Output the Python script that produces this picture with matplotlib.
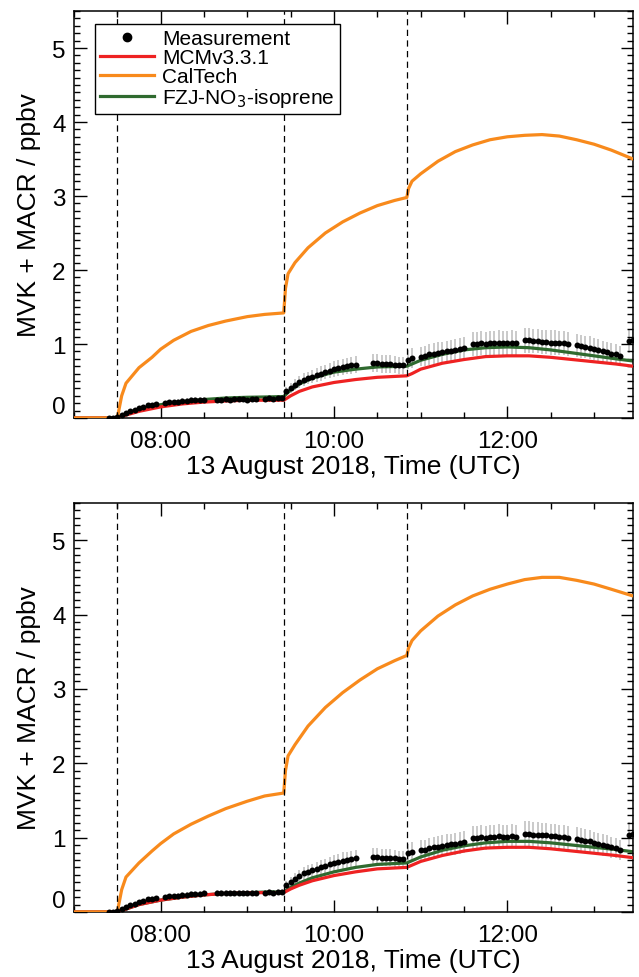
import numpy as np
import matplotlib
matplotlib.use("Agg")
import matplotlib.pyplot as plt
from matplotlib.lines import Line2D
from matplotlib.ticker import MultipleLocator, FuncFormatter

plt.rcParams['font.family'] = ['Liberation Sans', 'DejaVu Sans']

# isoprene injections (hours UTC)
inject_times = [7.50, 9.42, 10.84]

# model output, hours UTC
model_t = [7.0, 7.5, 7.6, 7.75, 8.0, 8.25, 8.5, 8.75, 9.0, 9.25, 9.42, 9.5, 9.6, 9.75,
           10.0, 10.25, 10.5, 10.84, 10.9, 11.0, 11.25, 11.5, 11.75, 12.0, 12.25, 12.5,
           12.75, 13.0, 13.25, 13.45]
mcm_top = [0, 0, 0.04, 0.09, 0.15, 0.19, 0.215, 0.23, 0.24, 0.24, 0.24, 0.30, 0.36, 0.42,
           0.48, 0.52, 0.55, 0.57, 0.60, 0.66, 0.74, 0.79, 0.83, 0.84, 0.84, 0.82,
           0.79, 0.76, 0.73, 0.70]
fzj_top = [0, 0, 0.06, 0.12, 0.18, 0.22, 0.25, 0.27, 0.28, 0.285, 0.29, 0.38, 0.46, 0.54,
           0.62, 0.66, 0.69, 0.70, 0.73, 0.78, 0.86, 0.92, 0.95, 0.96, 0.95, 0.92,
           0.88, 0.84, 0.80, 0.77]
mcm_bot = [0, 0, 0.04, 0.10, 0.16, 0.20, 0.23, 0.25, 0.26, 0.26, 0.26, 0.31, 0.36, 0.42,
           0.49, 0.54, 0.58, 0.60, 0.63, 0.68, 0.76, 0.82, 0.86, 0.87, 0.87, 0.85,
           0.82, 0.79, 0.76, 0.73]
fzj_bot = [0, 0, 0.04, 0.10, 0.16, 0.20, 0.23, 0.25, 0.26, 0.27, 0.27, 0.33, 0.39, 0.46,
           0.54, 0.60, 0.64, 0.66, 0.69, 0.74, 0.83, 0.89, 0.93, 0.95, 0.95, 0.93,
           0.90, 0.87, 0.84, 0.81]

caltech_t = [7.0, 7.5, 7.55, 7.6, 7.75, 7.9, 8.0, 8.15, 8.35, 8.55, 8.75, 9.0, 9.2, 9.42,
             9.44, 9.47, 9.55, 9.7, 9.9, 10.1, 10.3, 10.5, 10.7, 10.84, 10.86, 10.9, 11.0,
             11.2, 11.4, 11.6, 11.8, 12.0, 12.2, 12.4, 12.6, 12.8, 13.0, 13.2, 13.45]
caltech_top = [0, 0, 0.30, 0.47, 0.68, 0.82, 0.93, 1.05, 1.17, 1.25, 1.31, 1.37, 1.40, 1.42,
               1.75, 1.95, 2.1, 2.3, 2.5, 2.65, 2.77, 2.87, 2.94, 2.98, 3.1, 3.2, 3.3,
               3.47, 3.6, 3.69, 3.76, 3.8, 3.82, 3.83, 3.81, 3.76, 3.7, 3.62, 3.5]
caltech_bot = [0, 0, 0.30, 0.47, 0.66, 0.82, 0.92, 1.05, 1.18, 1.29, 1.39, 1.49, 1.56, 1.60,
               1.90, 2.10, 2.25, 2.5, 2.75, 2.95, 3.12, 3.27, 3.38, 3.45, 3.55, 3.65, 3.78,
               3.98, 4.13, 4.25, 4.34, 4.41, 4.47, 4.5, 4.5, 4.46, 4.41, 4.34, 4.25]

# measurement, 3 min data, segments separated by zero/calibration gaps
meas_step = 0.05
meas_starts = [7.40, 7.55, 8.05, 8.65, 9.20, 9.45, 9.80, 10.45, 10.85, 11.00, 11.60, 12.20,
               12.80, 13.40]
meas_values = [
    [0.00, 0.00, 0.01],
    [0.04, 0.07, 0.09, 0.11, 0.13, 0.15, 0.17, 0.18, 0.19],
    [0.20, 0.21, 0.21, 0.22, 0.23, 0.23, 0.24, 0.24, 0.24, 0.25],
    [0.25, 0.25, 0.26, 0.25, 0.26, 0.26, 0.26, 0.25, 0.26, 0.26],
    [0.26, 0.27, 0.26, 0.27, 0.27],
    [0.36, 0.41, 0.45, 0.49, 0.52, 0.54, 0.56],
    [0.58, 0.60, 0.62, 0.64, 0.66, 0.67, 0.69, 0.70, 0.71, 0.72],
    [0.74, 0.74, 0.73, 0.73, 0.73, 0.72, 0.71, 0.71],
    [0.79, 0.81],
    [0.83, 0.84, 0.86, 0.87, 0.88, 0.89, 0.90, 0.91, 0.92, 0.93, 0.94],
    [1.00, 1.00, 1.01, 1.00, 1.01, 1.01, 1.02, 1.01, 1.01, 1.02, 1.01],
    [1.05, 1.05, 1.04, 1.04, 1.03, 1.03, 1.02, 1.02, 1.01, 1.01, 1.00],
    [0.98, 0.97, 0.96, 0.95, 0.93, 0.92, 0.90, 0.89, 0.87, 0.86, 0.84],
    [1.04, 1.05],
]
meas_err_frac = 0.16

c_mcm = '#ee2222'
c_cal = '#f88a1c'
c_fzj = '#2f6a2f'

meas_t = np.concatenate([s + meas_step * np.arange(len(v)) for s, v in zip(meas_starts, meas_values)])
meas_v = np.concatenate([np.array(v) for v in meas_values])
meas_e = meas_err_frac * meas_v


def hhmm(h, pos):
    return "%02d:%02d" % (int(h), int(round((h % 1) * 60)))


def panel(ax, mcm, cal, fzj):
    ax.vlines(meas_t, meas_v - meas_e, meas_v + meas_e, color='#c6c6c6', lw=1.3, zorder=1)
    ax.plot(model_t, fzj, color=c_fzj, lw=2.3, zorder=2)
    ax.plot(model_t, mcm, color=c_mcm, lw=2.3, zorder=3)
    ax.plot(caltech_t, cal, color=c_cal, lw=2.3, zorder=3)
    ax.plot(meas_t, meas_v, 'o', color='k', ms=4.3, mew=0, zorder=4)
    for t in inject_times:
        ax.axvline(t, color='k', lw=0.9, ls=(0, (5, 3.5)), zorder=5)

    ax.set_xlim(7.0, 13.45)
    ax.set_ylim(0, 5.5)
    ax.set_yticks(range(6))
    ax.yaxis.set_minor_locator(MultipleLocator(0.1))
    ax.xaxis.set_major_locator(MultipleLocator(2))
    ax.xaxis.set_minor_locator(MultipleLocator(0.5))
    ax.xaxis.set_major_formatter(FuncFormatter(hhmm))
    ax.tick_params(which='both', direction='in', top=True, right=True, width=1)
    ax.tick_params(which='major', length=9, labelsize=17.5)
    ax.tick_params(which='minor', length=4.5)
    ax.tick_params(axis='x', pad=9)
    ax.tick_params(axis='y', pad=6)
    for sp in ax.spines.values():
        sp.set_linewidth(1.1)
    ax.set_ylabel('MVK + MACR / ppbv', fontsize=19, labelpad=8)
    ax.set_xlabel('13 August 2018, Time (UTC)', fontsize=19, labelpad=1)
    ax.yaxis.get_major_ticks()[0].label1.set_verticalalignment('bottom')


fig = plt.figure(figsize=(6.39, 9.78), dpi=100)
ax1 = fig.add_axes([74 / 639, 1 - 419 / 978, 559 / 639, 407 / 978])
ax2 = fig.add_axes([74 / 639, 1 - 913 / 978, 559 / 639, 409 / 978])

panel(ax1, mcm_top, caltech_top, fzj_top)
panel(ax2, mcm_bot, caltech_bot, fzj_bot)

handles = [
    Line2D([], [], ls='none', marker='o', color='k', ms=6),
    Line2D([], [], color=c_mcm, lw=2.3),
    Line2D([], [], color=c_cal, lw=2.3),
    Line2D([], [], color=c_fzj, lw=2.3),
]
labels = ['Measurement', 'MCMv3.3.1', 'CalTech', 'FZJ-NO$_3$-isoprene']
leg = ax1.legend(handles, labels, loc='upper left', bbox_to_anchor=(0.037, 0.968),
                 borderaxespad=0, fontsize=15, frameon=True, fancybox=False,
                 edgecolor='k', framealpha=1, handlelength=2.6, handletextpad=0.4,
                 labelspacing=0.0, borderpad=0.25)
leg.get_frame().set_linewidth(1.0)

fig.savefig('out.png', dpi=100)
